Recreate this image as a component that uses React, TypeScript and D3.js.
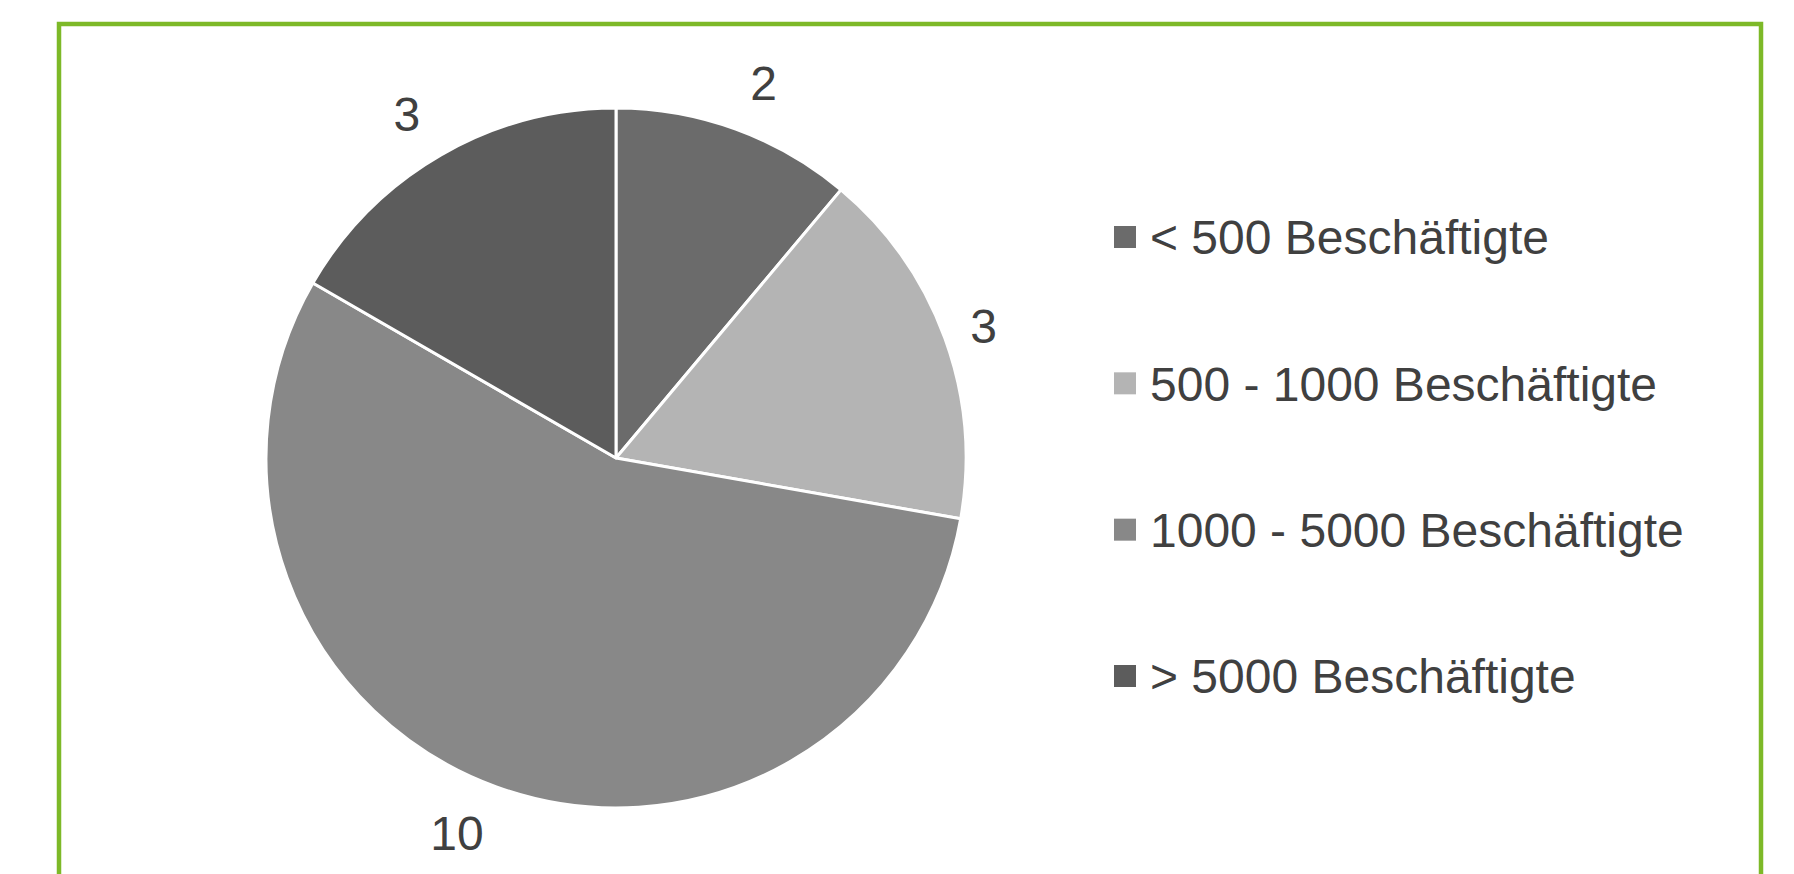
import { useMemo } from "react";
import * as d3 from "d3";

const WIDTH = 1794;
const HEIGHT = 874;

const categories = [
  "< 500 Beschäftigte",
  "500 - 1000 Beschäftigte",
  "1000 - 5000 Beschäftigte",
  "> 5000 Beschäftigte",
];
const values = [2, 3, 10, 3];
const colors = ["#6b6b6b", "#b4b4b4", "#888888", "#5c5c5c"];

const CENTER = { x: 616, y: 458 };
const RADIUS = 350;
const FONT = "'Liberation Sans', Arial, sans-serif";
const FONT_SIZE = 48;
const TEXT_COLOR = "#404040";

type Slice = { name: string; value: number; color: string };

export default function App() {
  const data: Slice[] = categories.map((name, i) => ({
    name,
    value: values[i],
    color: colors[i],
  }));

  const arcs = useMemo(() => {
    return d3
      .pie<Slice>()
      .sort(null)
      .value((d) => d.value)(data);
  }, []);

  const arcBuilder = d3.arc<d3.PieArcDatum<Slice>>().innerRadius(0).outerRadius(RADIUS);

  // outside-end labels: push the label box away from the rim, a bit more
  // at top/bottom, and sideways by part of its width (like excel does)
  const labelPos = (a: d3.PieArcDatum<Slice>) => {
    const mid = (a.startAngle + a.endAngle) / 2;
    const s = Math.sin(mid);
    const c = Math.cos(mid);
    const w = String(a.data.value).length * 0.556 * FONT_SIZE;
    const r = RADIUS + 30 + 20 * Math.abs(c);
    const x = r * s + 0.45 * w * Math.sign(s) * Math.abs(c);
    const y = -r * c;
    return [x, y];
  };

  // legend rows, evenly spaced
  const legendY = d3
    .scalePoint<string>()
    .domain(categories)
    .range([237, 676]);

  return (
    <div style={{ position: "absolute", left: 0, top: 0, background: "white" }}>
      <svg width={WIDTH} height={HEIGHT} style={{ display: "block" }}>
        <rect width={WIDTH} height={HEIGHT} fill="white" />
        <rect
          x={59}
          y={24}
          width={1702}
          height={900}
          fill="none"
          stroke="#7db928"
          strokeWidth={4.5}
        />
        <g transform={`translate(${CENTER.x},${CENTER.y})`}>
          {arcs.map((a, i) => (
            <path
              key={i}
              d={arcBuilder(a) || ""}
              fill={a.data.color}
              stroke="white"
              strokeWidth={3}
              strokeLinejoin="round"
            />
          ))}
          {arcs.map((a, i) => {
            const [lx, ly] = labelPos(a);
            return (
              <text
                key={i}
                x={lx}
                y={ly + 0.358 * FONT_SIZE}
                textAnchor="middle"
                fontFamily={FONT}
                fontSize={FONT_SIZE}
                fill={TEXT_COLOR}
              >
                {a.data.value}
              </text>
            );
          })}
        </g>
        <g>
          {data.map((d) => {
            const y = legendY(d.name) || 0;
            return (
              <g key={d.name}>
                <rect x={1114} y={y - 11} width={22} height={22} fill={d.color} />
                <text
                  x={1150}
                  y={y + 0.358 * FONT_SIZE}
                  fontFamily={FONT}
                  fontSize={FONT_SIZE}
                  fill={TEXT_COLOR}
                >
                  {d.name}
                </text>
              </g>
            );
          })}
        </g>
      </svg>
    </div>
  );
}
